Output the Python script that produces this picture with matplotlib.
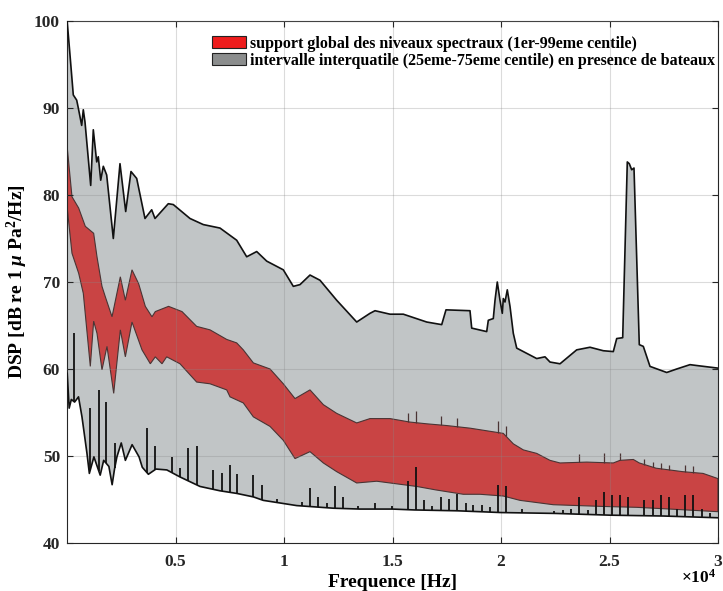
import numpy as np
import matplotlib
matplotlib.use("Agg")
import matplotlib.pyplot as plt
from matplotlib.patches import Patch

# upper edge of the grey band (boats, 75th percentile)
grey_top_f = [10, 138, 290, 447, 521, 677, 751, 829, 1092, 1212, 1369, 1442, 1553, 1673, 1829,
              2134, 2442, 2705, 2949, 3212, 3594, 3903, 4055, 4668, 4899, 5668, 6281, 7051, 7820,
              8281, 8742, 9203, 9968, 10429, 10737, 11198, 11659, 12429, 13350, 13963, 14194,
              14885, 15498, 16576, 17267, 17465, 18571, 18650, 19341, 19415, 19645, 19724, 19829,
              19954, 20060, 20106, 20184, 20290, 20415, 20567, 20724, 21645, 22028, 22258, 22719,
              23488, 24101, 24714, 25175, 25332, 25608, 25820, 25912, 26023, 26129, 26373, 26558,
              26866, 27636, 28097, 28710, 29018, 30000]
grey_top_db = [99.9, 96.1, 91.5, 90.9, 90.0, 88.0, 89.8, 88.4, 81.1, 87.5, 83.8, 84.4, 81.7, 83.3, 82.3,
               75.0, 83.6, 78.1, 82.7, 81.9, 77.3, 78.3, 77.3, 79.0, 78.9, 77.3, 76.6, 76.2, 74.8,
               72.9, 73.5, 72.4, 71.4, 69.5, 69.7, 70.8, 70.2, 67.9, 65.4, 66.4, 66.7,
               66.3, 66.3, 65.4, 65.1, 66.8, 66.7, 64.7, 64.3, 65.6, 65.8, 67.9, 70.0,
               67.9, 66.4, 68.1, 67.7, 69.1, 67.2, 64.1, 62.4, 61.2, 61.4, 60.8, 60.6,
               62.2, 62.5, 62.1, 62.0, 63.5, 63.6, 83.8, 83.6, 82.9, 83.1, 62.8, 62.6,
               60.3, 59.6, 60.0, 60.5, 60.4, 60.1]

# lower edge of the grey band (without the narrow tonal lines)
grey_bot_f = [10, 100, 200, 350, 530, 690, 920, 1030, 1240, 1530, 1690, 1930, 2080, 2190, 2300,
              2500, 2690, 3000, 3320, 3470, 3750, 4100, 4600, 5200, 6129, 7051, 7820, 8587, 9046,
              10585, 12272, 13500, 15000, 16000, 18000, 20000, 22500, 25000, 27500, 30000]
grey_bot_db = [59.5, 55.5, 56.5, 56.2, 56.8, 54.5, 50.3, 48.0, 49.9, 47.8, 49.5, 48.8, 46.7, 48.5, 49.9,
               51.5, 49.5, 51.3, 49.9, 48.7, 47.9, 48.5, 48.4, 47.6, 46.5, 46.0, 45.7, 45.3, 44.9,
               44.3, 44.0, 43.9, 43.9, 43.8, 43.7, 43.5, 43.4, 43.2, 43.1, 42.9]

# tonal lines rising from the lower grey edge
line_f = [309, 1074, 1461, 1811, 2198, 3687, 4069, 4839, 5221, 5576, 5991, 6744, 7128, 7512, 7819,
          8587, 8971, 9700, 10814, 11198, 11582, 11966, 12350, 12734, 13425, 14194, 14962, 15730,
          16083, 16452, 16834, 17221, 17604, 17986, 18373, 18725, 19110, 19493, 19848, 20216,
          20954, 22456, 22843, 23226, 23608, 23995, 24378, 24760, 25129, 25484, 25866, 26604,
          26991, 27373, 27756, 28097, 28479, 28862, 29249, 29631]
line_top = [64.1, 55.5, 57.6, 56.2, 51.5, 53.2, 51.1, 49.9, 48.6, 50.9, 51.1, 48.4, 48.0, 49.0, 47.9,
            47.8, 46.7, 45.1, 44.7, 46.3, 45.3, 44.6, 46.5, 45.3, 44.2, 44.6, 44.3, 47.1,
            48.7, 44.9, 44.2, 45.3, 45.1, 45.6, 44.6, 44.4, 44.4, 44.1, 46.7, 46.5,
            43.9, 43.7, 43.8, 43.9, 45.3, 43.8, 44.9, 45.9, 45.5, 45.5, 45.3, 44.9,
            44.9, 45.5, 45.3, 43.9, 45.5, 45.5, 43.9, 43.5]

# red band (1st - 99th percentile)
red_top_f = [10, 230, 538, 843, 1228, 1382, 1612, 1766, 2075, 2458, 2689, 2995, 3302, 3609, 3916,
             4069, 4680, 5300, 5975, 6590, 7359, 7820, 8124, 8588, 9357, 9968, 10507, 11198, 11813,
             12429, 13350, 13963, 14885, 15805, 16576, 17497, 18571, 20106, 20567, 21030, 21645,
             22258, 22719, 23949, 25175, 25484, 26098, 26373, 27144, 28373, 29309, 30000]
red_top_db = [85.5, 79.8, 78.5, 76.4, 75.6, 72.9, 69.5, 68.3, 66.0, 70.6, 67.9, 71.4, 69.8, 67.2, 66.0,
              66.6, 67.2, 66.6, 64.9, 64.5, 63.4, 63.0, 62.2, 60.7, 60.0, 58.3, 56.6, 57.6, 55.9,
              54.9, 53.8, 54.3, 54.3, 53.9, 53.7, 53.5, 53.2, 52.6, 51.4, 50.7, 50.3,
              49.5, 49.2, 49.3, 49.2, 49.5, 49.6, 49.2, 48.6, 48.2, 48.0, 47.4]
red_bot_f = [10, 230, 538, 751, 1074, 1228, 1382, 1612, 1843, 2152, 2458, 2689, 2995, 3456, 3840,
             4069, 4378, 4594, 5207, 5975, 6590, 7359, 7512, 8124, 8588, 9357, 9968, 10507, 11198,
             11813, 12429, 13350, 14272, 15194, 16115, 17000, 18263, 19032, 20106, 20876, 22410,
             24714, 26253, 27788, 30000]
red_bot_db = [78.5, 73.3, 71.0, 68.7, 60.3, 65.5, 64.1, 59.9, 62.6, 57.2, 64.5, 61.4, 65.4, 62.2, 60.6,
              61.4, 60.6, 61.4, 60.6, 58.5, 58.3, 57.6, 56.8, 56.1, 54.5, 53.4, 51.8, 49.7, 50.5,
              49.2, 48.2, 46.9, 47.1, 46.8, 46.5, 46.1, 45.6, 45.6, 45.4, 44.9, 44.4,
              44.2, 44.1, 43.9, 43.6]

# small tonal ticks on the upper red edge
red_tick_f = [15730, 16083, 17221, 17986, 19848, 20216, 23594, 24747, 25484, 26604, 26991, 27360,
              27742, 28479, 28862]
red_tick_top = [55.0, 55.2, 54.6, 54.4, 54.0, 53.4, 50.2, 50.3, 50.4, 49.6, 49.3, 49.2, 49.0, 49.0, 48.9]

xtick_vals = [5000, 10000, 15000, 20000, 25000, 30000]
xtick_labels = ['0.5', '1', '1.5', '2', '2.5', '3']
ytick_vals = [40, 50, 60, 70, 80, 90, 100]

plt.rcParams['font.family'] = ['Liberation Serif', 'DejaVu Serif']
plt.rcParams['font.weight'] = 'bold'
plt.rcParams['mathtext.fontset'] = 'custom'
plt.rcParams['mathtext.rm'] = 'Liberation Serif:bold'
plt.rcParams['mathtext.it'] = 'Liberation Serif:italic:bold'
plt.rcParams['mathtext.bf'] = 'Liberation Serif:bold'

fig = plt.figure(figsize=(7.23, 5.91), dpi=100)
ax = fig.add_axes([67 / 723, 1 - 543 / 591, 651 / 723, 522 / 591])

grey_x = np.concatenate([grey_top_f, grey_bot_f[::-1]])
grey_y = np.concatenate([grey_top_db, grey_bot_db[::-1]])
ax.fill(grey_x, grey_y, facecolor='#c1c5c6', edgecolor='none', zorder=1)
ax.plot(grey_top_f, grey_top_db, color='#111111', lw=1.2, zorder=3)
ax.plot(grey_bot_f, grey_bot_db, color='#111111', lw=1.2, zorder=3)

red_x = np.concatenate([red_top_f, red_bot_f[::-1]])
red_y = np.concatenate([red_top_db, red_bot_db[::-1]])
ax.fill(red_x, red_y, facecolor='#c94444', edgecolor='#4a3434', lw=0.8, zorder=2)

red_tick_base = np.interp(red_tick_f, red_top_f, red_top_db)
ax.vlines(red_tick_f, red_tick_base, red_tick_top, color='#4a3434', lw=0.9, zorder=2.5)

line_base = np.interp(line_f, grey_bot_f, grey_bot_db)
ax.vlines(line_f, line_base, line_top, color='#111111', lw=1.3, zorder=3)

ax.set_xlim(0, 30000)
ax.set_ylim(40, 100)
ax.set_xticks(xtick_vals)
ax.set_xticklabels(xtick_labels)
ax.set_yticks(ytick_vals)
ax.tick_params(direction='in', length=4, width=0.8, top=True, right=True,
               labelsize=12.5, colors='#262626')
ax.tick_params(axis='x', pad=8)
ax.tick_params(axis='y', pad=5)
for lab in ax.get_xticklabels() + ax.get_yticklabels():
    lab.set_fontweight('bold')
ax.grid(True, color='#888888', alpha=0.3, lw=0.8, zorder=4)
ax.set_axisbelow(False)
for sp in ax.spines.values():
    sp.set_color('#262626')
    sp.set_linewidth(0.8)

ax.set_xlabel('Frequence [Hz]', fontsize=14, fontweight='bold', labelpad=3)
ax.set_ylabel(r'DSP [dB re 1 $\mu$ Pa$^2$/Hz]', fontsize=14, fontweight='bold')
ax.yaxis.set_label_coords(-0.057, 0.5)
ax.text(0.997, -0.05, r'$\times10^4$', transform=ax.transAxes, ha='right', va='top', fontsize=12.5)

handles = [Patch(facecolor='#ee1c1c', edgecolor='#222222', lw=0.8),
           Patch(facecolor='#8b8d8d', edgecolor='#222222', lw=0.8)]
labels = ['support global des niveaux spectraux (1er-99eme centile)',
          'intervalle interquatile (25eme-75eme centile) en presence de bateaux']
ax.legend(handles, labels, loc='upper right', bbox_to_anchor=(0.995, 0.972), frameon=False,
          prop={'weight': 'bold', 'size': 11.5}, handlelength=2.1, handleheight=0.8,
          handletextpad=0.25, labelspacing=0.08, borderpad=0, borderaxespad=0)

fig.savefig('out.png', dpi=100)
